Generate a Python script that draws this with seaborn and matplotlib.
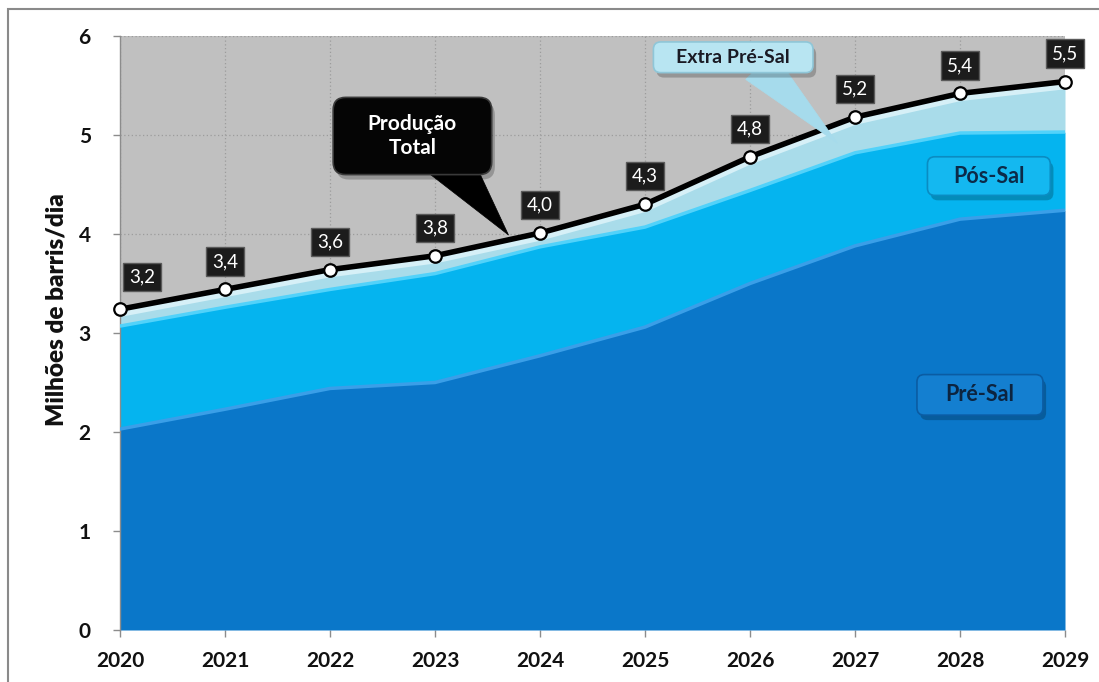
import numpy as np
import pandas as pd
import matplotlib
matplotlib.use("Agg")
import matplotlib.pyplot as plt
import seaborn as sns
from matplotlib.patches import FancyBboxPatch, Rectangle

# ---------------- data ----------------
years = [2020, 2021, 2022, 2023, 2024, 2025, 2026, 2027, 2028, 2029]
pre_sal = [2.03, 2.23, 2.44, 2.50, 2.77, 3.06, 3.50, 3.88, 4.15, 4.24]
pos_sal = [1.04, 1.03, 1.00, 1.10, 1.10, 1.01, 0.94, 0.94, 0.87, 0.79]
total = [3.24, 3.44, 3.64, 3.78, 4.01, 4.30, 4.78, 5.18, 5.42, 5.54]
y_ticks = [0, 1, 2, 3, 4, 5, 6]
x_tick_labels = ["2020", "2021", "2022", "2023", "2024",
                 "2025", "2026", "2027", "2028", "2029"]

df = pd.DataFrame({"year": years, "pre": pre_sal, "pos": pos_sal, "total": total})
df["extra"] = df["total"] - df["pre"] - df["pos"]
df["label"] = [f"{v:.1f}".replace(".", ",") for v in df["total"]]

# ---------------- style ----------------
sns.set_theme(style="white")
plt.rcParams["font.family"] = ["Lato", "DejaVu Sans"]

C_PRE = "#0a77c9"
C_POS = "#05b4ef"
C_EXTRA = "#a9dcea"

fig = plt.figure(figsize=(10.99, 6.82), dpi=100)
ax = fig.add_axes([120 / 1099, 52 / 682, 945 / 1099, 594 / 682])
ax.set_facecolor("#c0c0c0")

# stacked areas
ax.stackplot(df["year"], df["pre"], df["pos"], df["extra"],
             colors=[C_PRE, C_POS, C_EXTRA], lw=0, zorder=2)
# bevel highlights on each layer top
ax.plot(df["year"], df["pre"], color="#3a9fe8", lw=2.5, zorder=3)
ax.plot(df["year"], df["pre"] + df["pos"], color="#52d2fa", lw=2.5, zorder=3)
ax.plot(df["year"], df["total"] - 0.05, color="#d6f0f7", lw=4, zorder=3)

# total production line
sns.lineplot(data=df, x="year", y="total", ax=ax, color="black", lw=4,
             marker="o", markersize=9, markerfacecolor="white",
             markeredgecolor="black", markeredgewidth=1.6, zorder=5,
             clip_on=False)

# data labels
for i, row in df.iterrows():
    off = (22, 32) if i == 0 else (0, 28)
    ax.annotate(row["label"], xy=(row["year"], row["total"]), xytext=off,
                textcoords="offset pixels", ha="center", va="center",
                color="white", fontsize=13.5, zorder=7, annotation_clip=False,
                bbox=dict(boxstyle="square,pad=0.3", fc="#1c1c1c",
                          ec="#5a5a5a", lw=1))

# axes
ax.set_xlim(2020, 2029)
ax.set_ylim(0, 6)
ax.set_xticks(years)
ax.set_xticklabels(x_tick_labels)
ax.set_yticks(y_ticks)
ax.set_yticklabels([str(t) for t in y_ticks])
ax.grid(True, color="#9c9c9c", ls=(0, (1, 2)), lw=0.9)
ax.set_axisbelow(True)
for s in ["top", "right", "bottom"]:
    ax.spines[s].set_visible(False)
ax.spines["left"].set_color("#8c8c8c")
ax.spines["left"].set_linewidth(1)
ax.tick_params(axis="both", bottom=True, left=True, length=5, width=1,
               color="#8c8c8c", direction="out", labelsize=15)
ax.tick_params(axis="x", pad=10)
ax.tick_params(axis="y", pad=16)
for t in ax.get_xticklabels() + ax.get_yticklabels():
    t.set_fontweight("bold")
    t.set_color("#111111")
ax.set_xlabel("")
ax.set_ylabel("Milhões de barris/dia", fontsize=17.5, fontweight="heavy",
              color="#111111")
ax.yaxis.set_label_coords(-0.056, 0.54)

# ---------------- callouts ----------------
ASPECT = 105 / 99


def callout(x0, y0, x1, y1, r, fc, ec, text, tc, fs, lw=1.2):
    shadow = FancyBboxPatch((x0 + 0.03, y0 - 0.05), x1 - x0, y1 - y0,
                            boxstyle=f"round,pad=0,rounding_size={r}",
                            mutation_aspect=ASPECT, fc="#000000", ec="none",
                            alpha=0.22, zorder=8.5, clip_on=False)
    ax.add_patch(shadow)
    box = FancyBboxPatch((x0, y0), x1 - x0, y1 - y0,
                         boxstyle=f"round,pad=0,rounding_size={r}",
                         mutation_aspect=ASPECT, fc=fc, ec=ec, lw=lw,
                         zorder=9, clip_on=False)
    ax.add_patch(box)
    ax.text((x0 + x1) / 2, (y0 + y1) / 2, text, ha="center", va="center",
            color=tc, fontsize=fs, fontweight="bold", zorder=10,
            linespacing=1.3)


def wedge(base, tip, width, fc):
    ax.annotate("", xy=tip, xytext=base,
                arrowprops=dict(arrowstyle=f"wedge,tail_width={width},shrink_factor=0.5",
                                fc=fc, ec=fc, lw=0.5, mutation_scale=20,
                                shrinkA=0, shrinkB=0),
                zorder=8)


# Produção Total
wedge((2023.12, 4.76), (2023.70, 3.99), 1.7, "black")
callout(2022.03, 4.60, 2023.54, 5.38, 0.12, "#050505", "#3a3a3a",
        "Produção\nTotal", "white", 15)

# Extra Pré-Sal
wedge((2026.09, 5.70), (2026.83, 4.92), 1.4, "#a6dbec")
callout(2025.08, 5.63, 2026.60, 5.94, 0.07, "#b8e5f2", "#8fc6d8",
        "Extra Pré-Sal", "#1a1a24", 14)

# Pós-Sal
callout(2027.69, 4.39, 2028.86, 4.78, 0.07, "#14b8f0", "#0a8cc2",
        "Pós-Sal", "#0c2a48", 15.5)

# Pré-Sal
callout(2027.59, 2.17, 2028.79, 2.58, 0.07, "#147fd0", "#0a5ca3",
        "Pré-Sal", "#0c2440", 15.5)

# figure border
fig.patches.append(Rectangle((8 / 1099, -0.05), 1.2, 1 - 9 / 682 + 0.05,
                             transform=fig.transFigure, fill=False,
                             ec="#8a8a8a", lw=1.5))

fig.savefig("out.png", dpi=100)
